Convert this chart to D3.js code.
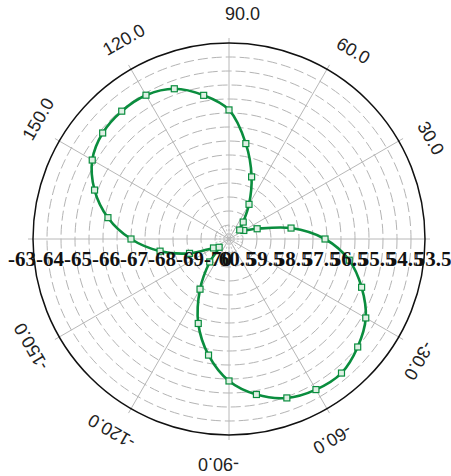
<!DOCTYPE html>
<html>
<head>
<meta charset="utf-8">
<script src="https://cdn.jsdelivr.net/npm/d3@7"></script>
<style>
  html, body { margin: 0; padding: 0; background: #fff; }
  svg { display: block; }
</style>
</head>
<body>
<svg id="chart" width="451" height="476"></svg>
<script>
// Measured pattern: angle in degrees (counter-clockwise from east) and level in dB
const angles = [0, 10, 20, 30, 40, 50, 60, 70, 80, 90, 100, 110, 120, 130, 140, 150, 160, 170,
                180, 190, 200, 210, 220, 230, 240, 250, 260, 270, 280, 290, 300, 310, 320, 330, 340, 350];
const levels = [-66.57, -67.75, -68.93, -69.39, -69.50, -69.21, -68.57, -67.64, -66.54, -65.39,
                -64.79, -64.29, -64.07, -64.04, -64.11, -64.36, -64.89, -65.61, -66.50, -67.50,
                -68.50, -69.36, -69.54, -68.93, -67.93, -66.79, -65.79, -64.93, -64.36, -63.96,
                -63.79, -63.75, -64.00, -64.36, -64.96, -65.64];

// Radial axis: value range, ring values and tick labels on each side
const radialDomain = [-70, -63];
const ringValues = [-69.5, -69, -68.5, -68, -67.5, -67, -66.5, -66, -65.5, -65, -64.5, -64, -63.5];
const radialTickValues = [-70, -69, -68, -67, -66, -65, -64, -63];
const leftTickLabels = ["-70", "-69", "-68", "-67", "-66", "-65", "-64", "-63"];
const rightTickLabels = ["60.5", "59.5", "58.5", "57.5", "56.5", "55.5", "54.5", "53.5"];

// Angular axis labels
const angleTicks = [30, 60, 90, 120, 150, -150, -120, -90, -60, -30];
const spokeAngles = [0, 30, 60, 90, 120, 150, 180, 210, 240, 270, 300, 330];

const cx = 229, cy = 239, R = 196;
const green = "#0a8d3e";

const svg = d3.select("#chart");
const g = svg.append("g").attr("transform", `translate(${cx},${cy})`);

const r = d3.scaleLinear().domain(radialDomain).range([0, R]);
const toRad = d => d * Math.PI / 180;
const px = (deg, rad) => rad * Math.cos(toRad(deg));
const py = (deg, rad) => -rad * Math.sin(toRad(deg));

// dashed rings
g.selectAll("circle.ring").data(ringValues).enter().append("circle")
  .attr("class", "ring")
  .attr("r", d => r(d))
  .attr("fill", "none")
  .attr("stroke", "#b4b4b4")
  .attr("stroke-width", 1)
  .attr("stroke-dasharray", "10,4");

// short spokes around the origin
g.selectAll("line.minor").data(d3.range(0, 360, 15)).enter().append("line")
  .attr("class", "minor")
  .attr("x1", 0).attr("y1", 0)
  .attr("x2", d => px(d, r(-69.5)))
  .attr("y2", d => py(d, r(-69.5)))
  .attr("stroke", "#c4c4c4")
  .attr("stroke-width", 1)
  .attr("stroke-dasharray", "2,2");

// main spokes
g.selectAll("line.spoke").data(spokeAngles).enter().append("line")
  .attr("class", "spoke")
  .attr("x1", 0).attr("y1", 0)
  .attr("x2", d => px(d, R + 5))
  .attr("y2", d => py(d, R + 5))
  .attr("stroke", "#b8b8b8")
  .attr("stroke-width", 1);

// outer boundary
g.append("circle")
  .attr("r", r(radialDomain[1]))
  .attr("fill", "none")
  .attr("stroke", "#111")
  .attr("stroke-width", 1.5);

// angular labels, rotated along the rim
g.selectAll("text.ang").data(angleTicks).enter().append("text")
  .attr("class", "ang")
  .attr("transform", d => `translate(${px(d, 225)},${py(d, 225)}) rotate(${90 - d})`)
  .attr("x", 31)
  .attr("text-anchor", "end")
  .attr("dominant-baseline", "central")
  .attr("font-family", "'Liberation Sans', Arial, sans-serif")
  .attr("font-size", 18)
  .attr("fill", "#222")
  .text(d => d.toFixed(1));

// radial data curve
const line = d3.lineRadial()
  .angle((d, i) => toRad(90 - angles[i]))
  .radius(d => r(d))
  .curve(d3.curveCatmullRomClosed);

g.append("path")
  .datum(levels)
  .attr("d", line)
  .attr("fill", "none")
  .attr("stroke", green)
  .attr("stroke-width", 2.6);

g.selectAll("rect.mk").data(levels).enter().append("rect")
  .attr("class", "mk")
  .attr("x", (d, i) => px(angles[i], r(d)) - 3)
  .attr("y", (d, i) => py(angles[i], r(d)) - 3)
  .attr("width", 6).attr("height", 6)
  .attr("fill", "#dff0e4")
  .attr("stroke", green)
  .attr("stroke-width", 1.2);

// radial tick labels along the horizontal axis
const labelFont = "'Liberation Serif', 'Times New Roman', serif";
g.selectAll("text.left").data(radialTickValues).enter().append("text")
  .attr("class", "left")
  .attr("x", d => -r(d) - 11)
  .attr("y", 27)
  .attr("text-anchor", "middle")
  .attr("font-family", labelFont)
  .attr("font-weight", "bold")
  .attr("font-size", 21)
  .attr("fill", "#111")
  .text((d, i) => leftTickLabels[i]);

g.selectAll("text.right").data(radialTickValues).enter().append("text")
  .attr("class", "right")
  .attr("x", d => r(d) + 8)
  .attr("y", 27)
  .attr("text-anchor", "middle")
  .attr("font-family", labelFont)
  .attr("font-weight", "bold")
  .attr("font-size", 21)
  .attr("fill", "#111")
  .text((d, i) => rightTickLabels[i]);
</script>
</body>
</html>
